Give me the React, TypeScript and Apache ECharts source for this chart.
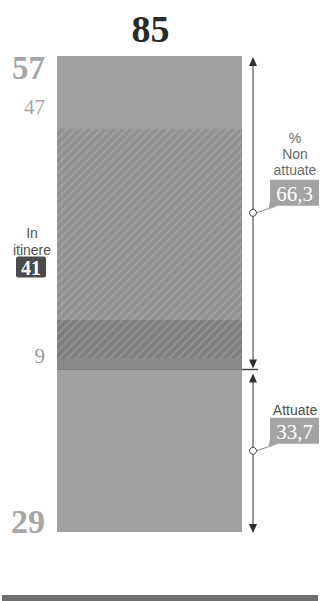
import React, { useEffect, useRef } from "react";
import * as echarts from "echarts";

// Provvedimenti: totale, attuati e non attuati
const categories = ["Provvedimenti"];
const totalLabel = "85";
const attuate = [29];
const nonAttuateLower = [9];
const nonAttuateUpper = [47];
const nonAttuateLabel = "57";
const itinereBase = [31];
const inItinere = [41];
const pctNonAttuate = "66,3";
const pctAttuate = "33,7";

const SERIF = "'Liberation Serif', 'DejaVu Serif', serif";
const SANS = "'Liberation Sans', 'Noto Sans', sans-serif";
const BAR_W = 185;

export default function App() {
  const ref = useRef<HTMLDivElement>(null);

  useEffect(() => {
    if (!ref.current) return;
    const chart = echarts.init(ref.current, null, { renderer: "svg" });
    const total = attuate[0] + nonAttuateLower[0] + nonAttuateUpper[0];

    chart.setOption({
      animation: false,
      backgroundColor: "#ffffff",
      grid: { left: 57, right: 78, top: 56, bottom: 69 },
      xAxis: { type: "category", data: categories, show: false },
      yAxis: { type: "value", min: 0, max: total, show: false },
      series: [
        { name: "Attuate", type: "bar", stack: "tot", data: attuate, barWidth: BAR_W, barGap: "-100%", itemStyle: { color: "#a1a1a1" } },
        { name: "Non attuate (9)", type: "bar", stack: "tot", data: nonAttuateLower, barWidth: BAR_W, barGap: "-100%", itemStyle: { color: "#8a8a8a" } },
        { name: "Non attuate (47)", type: "bar", stack: "tot", data: nonAttuateUpper, barWidth: BAR_W, barGap: "-100%", itemStyle: { color: "#a1a1a1" } },
        { name: "base", type: "bar", stack: "it", data: itinereBase, barWidth: BAR_W, barGap: "-100%", itemStyle: { color: "rgba(0,0,0,0)" }, silent: true },
        {
          name: "In itinere", type: "bar", stack: "it", data: inItinere, barWidth: BAR_W, barGap: "-100%",
          itemStyle: {
            color: "rgba(90,90,90,0.21)",
            decal: {
              symbol: "rect",
              dashArrayX: [1, 0],
              dashArrayY: [2, 4],
              rotation: -Math.PI / 4,
              color: "rgba(255,255,255,0.13)",
            },
          },
        },
      ],
    });

    const y = (v: number) => chart.convertToPixel({ yAxisIndex: 0 }, v) as number;
    const xc = chart.convertToPixel({ xAxisIndex: 0 }, categories[0]) as number;
    const xL = xc - BAR_W / 2;
    const xR = xc + BAR_W / 2;
    const ax = xR + 11;
    const yTop = y(total);
    const ySep = y(attuate[0]);
    const yBot = y(0);
    const yItMid = y(itinereBase[0] + inItinere[0] / 2);
    const cNon = y((total + attuate[0]) / 2);
    const cAtt = y(attuate[0] / 2);
    const ink = "#2e2e2e";

    const tri = (tipY: number, dir: 1 | -1) => ({
      type: "polygon",
      shape: { points: [[ax, tipY], [ax - 4, tipY + dir * 9], [ax + 4, tipY + dir * 9]] },
      style: { fill: ink },
    });

    const callout = (cy: number, value: string) => {
      const bx = 270, bw = 49, bh = 26;
      const by = cy - 7 - bh;
      return [
        { type: "line", shape: { x1: ax + 3.5, y1: cy, x2: bx - 2, y2: by + bh + 3 }, style: { stroke: "#8a8a8a", lineWidth: 1 } },
        {
          type: "polygon",
          shape: { points: [[bx, by], [bx + bw, by], [bx + bw, by + bh], [bx + 8, by + bh], [bx - 2, by + bh + 4], [bx, by + bh - 4]] },
          style: { fill: "#a3a3a3" },
        },
        { type: "text", style: { text: value, x: bx + bw / 2, y: by + bh / 2 + 1, align: "center", verticalAlign: "middle", font: `21px ${SERIF}`, fill: "#ffffff" } },
        { by },
      ];
    };
    const non = callout(cNon, pctNonAttuate);
    const att = callout(cAtt, pctAttuate);
    const nonBy = (non.pop() as any).by;
    const attBy = (att.pop() as any).by;

    const sans = (text: string, x: number, yy: number, fill: string) => ({
      type: "text",
      style: { text, x, y: yy, align: "center", verticalAlign: "middle", font: `14px ${SANS}`, fill },
    });

    chart.setOption({
      graphic: [
        { type: "text", style: { text: totalLabel, x: xc + 1, y: 29, align: "center", verticalAlign: "middle", font: `bold 38px ${SERIF}`, fill: "#2a2a2a" } },
        { type: "text", style: { text: nonAttuateLabel, x: xL - 12, y: yTop + 12, align: "right", verticalAlign: "middle", font: `bold 33px ${SERIF}`, fill: "#a6a6a6" } },
        { type: "text", style: { text: String(nonAttuateUpper[0]), x: xL - 12, y: yTop + 51, align: "right", verticalAlign: "middle", font: `21px ${SERIF}`, fill: "#a6a6a6" } },
        { type: "text", style: { text: String(nonAttuateLower[0]), x: xL - 12, y: ySep - 14, align: "right", verticalAlign: "middle", font: `21px ${SERIF}`, fill: "#9a9a9a" } },
        { type: "text", style: { text: String(attuate[0]), x: xL - 12, y: yBot - 11, align: "right", verticalAlign: "middle", font: `bold 34px ${SERIF}`, fill: "#a6a6a6" } },

        // In itinere
        sans("In", 32, yItMid - 11, "#505050"),
        sans("itinere", 32, yItMid + 6, "#505050"),
        { type: "rect", shape: { x: 16, y: yItMid + 13, width: 30, height: 21, r: 2 }, style: { fill: "#4b4b4b" } },
        { type: "text", style: { text: String(inItinere[0]), x: 31, y: yItMid + 24, align: "center", verticalAlign: "middle", font: `bold 20px ${SERIF}`, fill: "#ffffff" } },

        // separatore attuate / non attuate
        { type: "line", shape: { x1: xL, y1: ySep, x2: ax + 5, y2: ySep }, style: { stroke: "#4a4a4a", lineWidth: 1.5 } },

        // frecce
        { type: "line", shape: { x1: ax, y1: yTop + 6, x2: ax, y2: ySep - 6 }, style: { stroke: ink, lineWidth: 1 } },
        { type: "line", shape: { x1: ax, y1: ySep + 9, x2: ax, y2: yBot - 5 }, style: { stroke: ink, lineWidth: 1 } },
        tri(yTop + 1, 1),
        tri(ySep - 1, -1),
        tri(ySep + 4, 1),
        tri(yBot + 1, -1),

        ...non,
        ...att,
        { type: "circle", shape: { cx: ax, cy: cNon, r: 3.5 }, style: { fill: "#ffffff", stroke: "#444", lineWidth: 1 } },
        { type: "circle", shape: { cx: ax, cy: cAtt, r: 3.5 }, style: { fill: "#ffffff", stroke: "#444", lineWidth: 1 } },

        sans("%", 295, nonBy - 42, "#6a6a6a"),
        sans("Non", 295, nonBy - 26, "#6a6a6a"),
        sans("attuate", 295, nonBy - 10, "#6a6a6a"),
        sans("Attuate", 295, attBy - 8, "#505050"),

        // filetto di chiusura
        { type: "rect", shape: { x: 2, y: 595, width: 316, height: 6 }, style: { fill: "#6f6f6f" } },
      ],
    });

    return () => chart.dispose();
  }, []);

  return <div ref={ref} style={{ position: "fixed", left: 0, top: 0, width: 320, height: 601 }} />;
}
